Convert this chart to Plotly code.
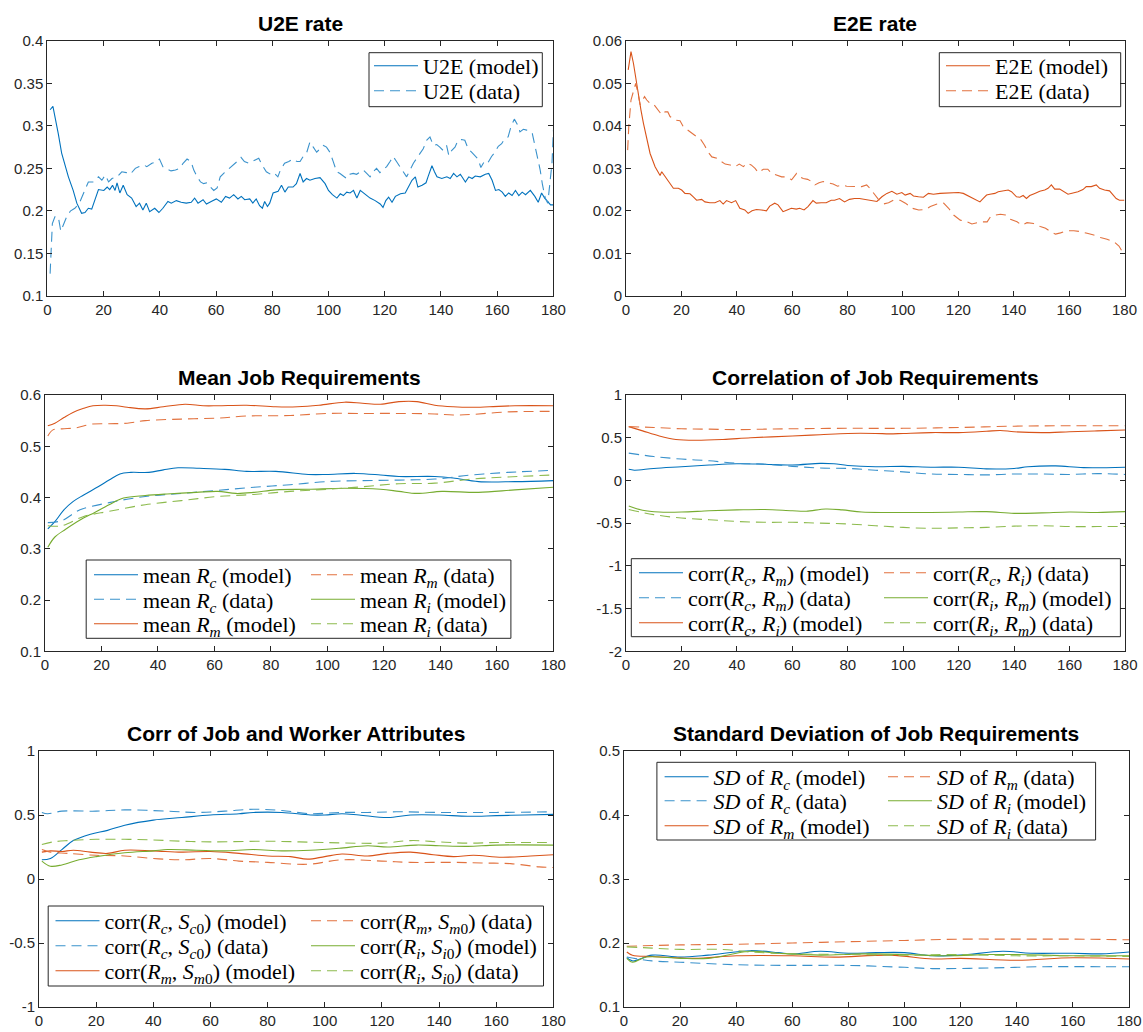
import plotly.graph_objects as go

W, H = 1143, 1032

# ---------------- data ----------------
# U2E rate
u2e_model_x = [1, 2, 3.9, 5.1, 7.5, 9.2, 10.5, 12.2, 13.4, 14.6, 15.8, 17, 18.2, 20.1, 21.3, 22.2, 23.2, 24.1, 24.8, 25.8, 27, 28.4, 30, 31.6, 32.8, 34, 35.2, 36.4, 38.2, 39.7, 41.1, 42.9, 44.1, 45.9, 47.6, 49.4, 51.2, 52.4, 53.6, 55.4, 56.6, 58.3, 60.1, 61.9, 63.4, 64.8, 66.3, 67.8, 69, 70.2, 72, 73.1, 74.3, 75.5, 76.5, 77.3, 78.3, 79.1, 80.3, 82.1, 83.3, 84.5, 85.7, 87.4, 88.6, 89.9, 91, 92.2, 93.4, 95.2, 97, 98.8, 100, 101.4, 103, 104.2, 105.3, 106.5, 107.7, 108.9, 110.1, 111.3, 112.5, 113.7, 114.8, 116.6, 118.4, 119.4, 120.4, 121.4, 122.6, 123.8, 125.6, 127.3, 128.5, 129.7, 130.9, 131.8, 133.3, 134.7, 135.4, 136.8, 137.7, 138.6, 140.3, 142.1, 143.3, 144.5, 145.7, 146.9, 148.7, 149.9, 151.1, 152.2, 154, 155.8, 157, 158.2, 159.4, 160.6, 161.8, 162.9, 164.1, 165.3, 166.5, 167.7, 168.9, 170.1, 171.8, 173.4, 174.6, 175.8, 176.9, 178.1, 179, 180]
u2e_model_y = [0.319, 0.323, 0.291, 0.268, 0.240, 0.224, 0.209, 0.197, 0.198, 0.203, 0.202, 0.213, 0.225, 0.224, 0.228, 0.225, 0.230, 0.224, 0.233, 0.221, 0.230, 0.219, 0.215, 0.205, 0.209, 0.201, 0.209, 0.199, 0.203, 0.198, 0.203, 0.211, 0.209, 0.212, 0.210, 0.209, 0.210, 0.215, 0.209, 0.213, 0.208, 0.211, 0.214, 0.210, 0.217, 0.215, 0.219, 0.214, 0.217, 0.213, 0.214, 0.209, 0.214, 0.206, 0.203, 0.211, 0.205, 0.209, 0.221, 0.223, 0.230, 0.222, 0.228, 0.228, 0.232, 0.244, 0.234, 0.238, 0.236, 0.238, 0.239, 0.232, 0.224, 0.219, 0.215, 0.220, 0.218, 0.222, 0.221, 0.224, 0.215, 0.224, 0.221, 0.218, 0.215, 0.212, 0.208, 0.204, 0.212, 0.216, 0.210, 0.217, 0.220, 0.221, 0.228, 0.236, 0.240, 0.228, 0.230, 0.233, 0.240, 0.253, 0.246, 0.240, 0.238, 0.240, 0.238, 0.244, 0.240, 0.243, 0.234, 0.240, 0.238, 0.241, 0.240, 0.243, 0.244, 0.236, 0.224, 0.225, 0.222, 0.217, 0.221, 0.218, 0.224, 0.218, 0.222, 0.219, 0.224, 0.217, 0.210, 0.221, 0.215, 0.210, 0.207, 0.207]
u2e_data_x = [1, 1.8, 2.7, 3.9, 4.8, 5.9, 7, 8.3, 9.8, 11.4, 12.8, 14.6, 16.4, 18.2, 19.4, 20.6, 21.8, 23, 24.8, 26.5, 28.1, 29.5, 31.3, 32.5, 34.3, 35.4, 37.2, 38.4, 39.9, 41.1, 42.6, 44, 45.6, 47.1, 48.3, 49.7, 51.1, 52.1, 53.3, 54.5, 55.6, 56.8, 58, 59.2, 60.4, 61.5, 63, 64.5, 66, 67.5, 68.9, 70.1, 71.6, 73.4, 75.2, 76.4, 77.9, 79.4, 80.6, 82, 82.9, 84.4, 85.9, 87.4, 88.8, 89.9, 91, 92.2, 93.4, 94.6, 95.8, 97, 98.2, 99.3, 100.5, 101.7, 102.9, 104.1, 105.3, 106.5, 107.6, 108.8, 110, 111.2, 112.4, 113.6, 114.8, 115.9, 117.1, 118.3, 119.5, 120.7, 121.9, 123, 124.2, 125.4, 126.6, 127.8, 129, 130.2, 131.4, 132.5, 133.7, 134.9, 136.1, 137.3, 138.5, 139.6, 140.8, 142, 142.8, 143.8, 145, 146.1, 147.3, 148.5, 149.7, 150.9, 152.1, 153.2, 154.2, 155.4, 156.6, 158, 159.2, 160.4, 161.6, 162.7, 163.9, 164.9, 166.1, 167.3, 168.1, 169.3, 170.5, 171.7, 172.5, 173.5, 174.4, 175.3, 176.1, 177.1, 178, 178.9, 179.5, 180]
u2e_data_y = [0.126, 0.185, 0.193, 0.193, 0.176, 0.185, 0.194, 0.200, 0.203, 0.209, 0.221, 0.234, 0.234, 0.240, 0.236, 0.242, 0.234, 0.238, 0.240, 0.246, 0.245, 0.243, 0.250, 0.252, 0.254, 0.252, 0.256, 0.257, 0.261, 0.252, 0.249, 0.247, 0.248, 0.250, 0.256, 0.261, 0.258, 0.248, 0.240, 0.234, 0.232, 0.233, 0.228, 0.224, 0.227, 0.240, 0.245, 0.249, 0.253, 0.258, 0.263, 0.258, 0.256, 0.259, 0.262, 0.254, 0.246, 0.243, 0.245, 0.240, 0.248, 0.256, 0.258, 0.261, 0.258, 0.258, 0.264, 0.268, 0.281, 0.275, 0.269, 0.273, 0.277, 0.275, 0.269, 0.258, 0.246, 0.244, 0.241, 0.238, 0.243, 0.244, 0.243, 0.246, 0.248, 0.244, 0.240, 0.246, 0.250, 0.245, 0.248, 0.252, 0.258, 0.264, 0.258, 0.252, 0.245, 0.240, 0.248, 0.256, 0.262, 0.268, 0.273, 0.283, 0.287, 0.277, 0.278, 0.275, 0.271, 0.277, 0.265, 0.271, 0.275, 0.283, 0.284, 0.283, 0.273, 0.269, 0.265, 0.261, 0.251, 0.258, 0.256, 0.264, 0.269, 0.276, 0.279, 0.285, 0.287, 0.299, 0.308, 0.301, 0.293, 0.296, 0.295, 0.294, 0.291, 0.277, 0.264, 0.248, 0.231, 0.215, 0.209, 0.233, 0.256, 0.295]

# E2E rate
e2e_model_x = [0.8, 1.8, 2.7, 3.5, 4.5, 5.4, 6.3, 7.5, 8.7, 10.5, 12.3, 12.9, 14.7, 15.9, 17.1, 18.9, 20.1, 21.3, 23.1, 24.3, 25.5, 27.3, 28.5, 30.3, 32.1, 33.9, 35.1, 36.3, 38.1, 39.6, 41.1, 42.9, 44.1, 45.5, 47.1, 48.9, 50.7, 51.9, 53.7, 54.9, 56.7, 58.2, 59.7, 61.5, 62.7, 64.3, 65.7, 67.5, 68.7, 70.5, 72.3, 74.1, 75.3, 77.1, 78.9, 80.7, 82.5, 84.3, 86.1, 88, 90.6, 92.4, 94.2, 96, 97.8, 99.6, 100.8, 102.6, 103.8, 105.6, 107.4, 109.2, 111, 113.4, 115.2, 117.6, 120, 121.8, 123.6, 125.4, 126.6, 127.8, 129, 130.2, 131.4, 133.2, 134.4, 136.2, 138, 139.2, 141, 142.2, 143.4, 144.6, 145.8, 147.6, 149.4, 151.2, 152.4, 153.6, 154.8, 156.6, 158, 159.6, 161.4, 163.2, 165, 166.2, 168, 169.8, 171, 172.8, 174.6, 175.8, 177, 178.2, 180]
e2e_model_y = [0.0532, 0.0575, 0.0547, 0.0512, 0.0469, 0.0437, 0.0406, 0.0367, 0.0335, 0.0304, 0.0283, 0.0292, 0.0276, 0.0265, 0.0253, 0.0253, 0.0249, 0.0241, 0.0240, 0.0233, 0.0225, 0.0227, 0.0221, 0.0219, 0.0219, 0.0224, 0.0216, 0.0224, 0.0219, 0.0224, 0.0206, 0.0202, 0.0194, 0.0200, 0.0203, 0.0202, 0.0200, 0.0211, 0.0218, 0.0214, 0.0198, 0.0202, 0.0206, 0.0204, 0.0206, 0.0202, 0.0210, 0.0224, 0.0218, 0.0219, 0.0219, 0.0225, 0.0225, 0.0229, 0.0221, 0.0227, 0.0229, 0.0229, 0.0227, 0.0224, 0.0222, 0.0233, 0.0241, 0.0246, 0.0239, 0.0243, 0.0237, 0.0241, 0.0235, 0.0233, 0.0232, 0.0241, 0.0239, 0.0241, 0.0242, 0.0243, 0.0243, 0.0241, 0.0235, 0.0229, 0.0224, 0.0221, 0.0229, 0.0237, 0.0239, 0.0241, 0.0245, 0.0247, 0.0249, 0.0245, 0.0233, 0.0232, 0.0236, 0.0229, 0.0236, 0.0241, 0.0246, 0.0249, 0.0253, 0.0261, 0.0251, 0.0251, 0.0245, 0.0239, 0.0242, 0.0245, 0.0250, 0.0257, 0.0257, 0.0261, 0.0253, 0.0249, 0.0247, 0.0237, 0.0229, 0.0225, 0.0225]
e2e_data_x = [0.6, 1, 1.8, 2.7, 3.5, 4.2, 5.1, 5.7, 6.7, 7.5, 8.7, 9.9, 11.1, 12.9, 14.1, 15.1, 15.9, 17.7, 19.5, 20.7, 21.9, 23.7, 25.5, 27.1, 28.3, 29.8, 31, 32.8, 34.4, 35.8, 37.6, 39.4, 40.9, 42.4, 43.6, 45.2, 46.6, 47.8, 49.6, 51.2, 52.6, 54.4, 56.2, 58, 59.8, 61.6, 62.8, 64, 65.6, 67, 68.2, 69.7, 71.2, 73, 74.8, 76.4, 77.9, 79.7, 81.5, 83.3, 85.1, 86.9, 88.1, 89.6, 91, 93, 94.8, 96.6, 99, 100.9, 103.3, 105.7, 108.1, 109.9, 112.3, 114.7, 116.5, 118.3, 120.7, 123.1, 124.9, 126.8, 128.6, 130.4, 131.6, 133.4, 135.2, 137, 138.8, 141.2, 143, 144.8, 147.2, 149.6, 151.5, 153.3, 155.1, 156.9, 159.3, 161.7, 164.1, 166.5, 168.9, 171.3, 173.7, 176.2, 178, 179.2, 180]
e2e_data_y = [0.0343, 0.0398, 0.0461, 0.0485, 0.0500, 0.0481, 0.0450, 0.0457, 0.0469, 0.0461, 0.0453, 0.0452, 0.0441, 0.0426, 0.0433, 0.0433, 0.0422, 0.0414, 0.0412, 0.0398, 0.0392, 0.0384, 0.0376, 0.0367, 0.0355, 0.0337, 0.0327, 0.0324, 0.0316, 0.0310, 0.0308, 0.0304, 0.0310, 0.0304, 0.0312, 0.0308, 0.0300, 0.0290, 0.0298, 0.0298, 0.0288, 0.0284, 0.0280, 0.0280, 0.0273, 0.0288, 0.0280, 0.0276, 0.0274, 0.0269, 0.0261, 0.0266, 0.0269, 0.0266, 0.0263, 0.0258, 0.0261, 0.0258, 0.0257, 0.0257, 0.0257, 0.0261, 0.0253, 0.0240, 0.0228, 0.0216, 0.0219, 0.0225, 0.0225, 0.0218, 0.0206, 0.0202, 0.0203, 0.0210, 0.0216, 0.0218, 0.0206, 0.0190, 0.0178, 0.0174, 0.0169, 0.0172, 0.0174, 0.0174, 0.0186, 0.0190, 0.0192, 0.0190, 0.0180, 0.0174, 0.0166, 0.0172, 0.0170, 0.0163, 0.0159, 0.0151, 0.0145, 0.0148, 0.0153, 0.0153, 0.0151, 0.0147, 0.0143, 0.0137, 0.0133, 0.0127, 0.0117, 0.0104, 0.0096]

# Mean job requirements
mean_rc_model_x = [1, 3.5, 6.7, 9.9, 13.7, 18.8, 22.7, 26.5, 30.4, 36.8, 41.9, 47.1, 54.7, 63.7, 71.4, 81.7, 93.2, 99.6, 109.9, 118.8, 125.3, 138, 144.5, 153.5, 166.3, 180]
mean_rc_model_y = [0.339, 0.353, 0.376, 0.392, 0.405, 0.421, 0.434, 0.446, 0.449, 0.449, 0.454, 0.458, 0.457, 0.455, 0.451, 0.451, 0.445, 0.445, 0.447, 0.444, 0.441, 0.441, 0.438, 0.431, 0.431, 0.433]
mean_rc_data_x = [1, 6, 12.4, 22.7, 35.5, 48.3, 61.2, 74, 86.8, 99.6, 112.4, 125.3, 138, 150.9, 163.7, 180]
mean_rc_data_y = [0.351, 0.355, 0.376, 0.390, 0.402, 0.408, 0.414, 0.420, 0.425, 0.431, 0.433, 0.434, 0.436, 0.444, 0.449, 0.453]
mean_rm_model_x = [1, 3.5, 6.7, 9.9, 13.7, 17, 21.4, 25.3, 29.1, 35.5, 41.9, 49.6, 56, 61.2, 71.4, 81.7, 89.4, 97, 106, 112.4, 118.8, 125.3, 131.7, 138, 144.5, 150.9, 157.3, 166.3, 180]
mean_rm_model_y = [0.540, 0.545, 0.556, 0.566, 0.574, 0.579, 0.580, 0.579, 0.576, 0.573, 0.577, 0.582, 0.579, 0.579, 0.580, 0.577, 0.577, 0.580, 0.586, 0.584, 0.582, 0.587, 0.587, 0.580, 0.577, 0.576, 0.577, 0.579, 0.579]
mean_rm_data_x = [1, 2.8, 6, 11.2, 16.3, 22.7, 29.1, 35.5, 48.3, 61.2, 71.4, 86.8, 99.6, 112.4, 125.3, 138, 144.5, 150.9, 163.7, 180]
mean_rm_data_y = [0.520, 0.532, 0.534, 0.536, 0.543, 0.544, 0.545, 0.550, 0.553, 0.555, 0.559, 0.560, 0.564, 0.564, 0.564, 0.563, 0.561, 0.562, 0.567, 0.568]
mean_ri_model_x = [1, 3.5, 7.3, 12.4, 17.6, 22.7, 27.8, 35.5, 43.2, 53.5, 61.2, 67.6, 74, 81.7, 93.2, 106, 118.8, 125.3, 131.7, 140.6, 153.5, 166.3, 180]
mean_ri_model_y = [0.303, 0.323, 0.338, 0.356, 0.371, 0.386, 0.399, 0.404, 0.407, 0.410, 0.412, 0.408, 0.410, 0.415, 0.416, 0.418, 0.416, 0.412, 0.408, 0.412, 0.410, 0.415, 0.420]
mean_ri_data_x = [1, 6, 13.7, 22.7, 35.5, 48.3, 61.2, 74, 86.8, 99.6, 112.4, 125.3, 138, 150.9, 163.7, 180]
mean_ri_data_y = [0.345, 0.345, 0.363, 0.373, 0.386, 0.394, 0.402, 0.406, 0.412, 0.416, 0.421, 0.427, 0.428, 0.436, 0.440, 0.444]

# Correlation of job requirements
corr_rcrm_model_x = [1, 3, 10, 20, 30, 40, 50, 60, 70, 75, 80, 90, 100, 110, 120, 130, 140, 145, 155, 165, 180]
corr_rcrm_model_y = [0.13, 0.12, 0.14, 0.16, 0.18, 0.195, 0.19, 0.18, 0.20, 0.195, 0.175, 0.16, 0.165, 0.155, 0.155, 0.135, 0.14, 0.16, 0.17, 0.15, 0.155]
corr_rcrm_data_x = [1, 10, 20, 30, 40, 50, 60, 70, 80, 90, 100, 110, 120, 130, 140, 150, 160, 170, 180]
corr_rcrm_data_y = [0.32, 0.28, 0.25, 0.23, 0.20, 0.19, 0.165, 0.145, 0.14, 0.12, 0.10, 0.075, 0.07, 0.065, 0.075, 0.075, 0.07, 0.08, 0.07]
corr_rcri_model_x = [1, 6, 12, 18, 25, 35, 45, 60, 70, 80, 90, 95, 100, 110, 120, 130, 135, 140, 150, 160, 170, 180]
corr_rcri_model_y = [0.63, 0.58, 0.52, 0.48, 0.47, 0.48, 0.50, 0.52, 0.535, 0.55, 0.55, 0.545, 0.55, 0.56, 0.56, 0.575, 0.585, 0.57, 0.56, 0.57, 0.58, 0.59]
corr_rcri_data_x = [1, 10, 20, 30, 40, 50, 60, 80, 100, 120, 140, 160, 180]
corr_rcri_data_y = [0.63, 0.62, 0.605, 0.60, 0.595, 0.60, 0.605, 0.61, 0.61, 0.62, 0.635, 0.64, 0.64]
corr_rirm_model_x = [1, 6, 12, 20, 30, 40, 50, 60, 65, 72, 78, 85, 95, 110, 120, 130, 140, 150, 160, 170, 180]
corr_rirm_model_y = [-0.30, -0.35, -0.37, -0.37, -0.355, -0.345, -0.34, -0.355, -0.36, -0.335, -0.345, -0.37, -0.375, -0.375, -0.37, -0.365, -0.385, -0.38, -0.37, -0.375, -0.365]
corr_rirm_data_x = [1, 10, 20, 30, 40, 50, 60, 70, 80, 90, 100, 110, 120, 130, 140, 150, 160, 170, 180]
corr_rirm_data_y = [-0.34, -0.40, -0.44, -0.46, -0.48, -0.49, -0.49, -0.50, -0.51, -0.53, -0.55, -0.56, -0.555, -0.55, -0.535, -0.53, -0.54, -0.54, -0.54]

# Correlation of job and worker attributes
cjw_c_model_x = [1, 4, 8, 12, 18, 24, 30, 40, 50, 60, 70, 75, 85, 95, 100, 106, 112, 122, 130, 140, 150, 160, 170, 180]
cjw_c_model_y = [0.15, 0.16, 0.23, 0.30, 0.35, 0.38, 0.42, 0.46, 0.48, 0.50, 0.51, 0.52, 0.52, 0.50, 0.50, 0.51, 0.50, 0.48, 0.50, 0.50, 0.49, 0.495, 0.50, 0.505]
cjw_c_data_x = [1, 3, 8, 20, 30, 45, 55, 65, 75, 85, 95, 105, 115, 125, 140, 160, 180]
cjw_c_data_y = [0.52, 0.51, 0.53, 0.53, 0.54, 0.53, 0.52, 0.53, 0.545, 0.535, 0.51, 0.52, 0.52, 0.525, 0.52, 0.52, 0.525]
cjw_m_model_x = [1, 4, 8, 12, 18, 24, 30, 40, 50, 60, 70, 80, 88, 94, 100, 106, 115, 122, 130, 138, 145, 152, 162, 172, 180]
cjw_m_model_y = [0.21, 0.22, 0.215, 0.225, 0.21, 0.20, 0.225, 0.22, 0.21, 0.215, 0.20, 0.18, 0.175, 0.155, 0.175, 0.195, 0.18, 0.20, 0.21, 0.19, 0.175, 0.185, 0.17, 0.18, 0.19]
cjw_m_data_x = [1, 4, 10, 20, 30, 40, 50, 60, 70, 80, 94, 106, 120, 130, 145, 155, 165, 175, 180]
cjw_m_data_y = [0.23, 0.21, 0.20, 0.185, 0.18, 0.16, 0.15, 0.16, 0.14, 0.13, 0.115, 0.15, 0.14, 0.13, 0.13, 0.125, 0.12, 0.095, 0.09]
cjw_i_model_x = [1, 4, 8, 14, 20, 30, 40, 45, 55, 65, 75, 85, 95, 105, 115, 122, 132, 140, 150, 160, 180]
cjw_i_model_y = [0.14, 0.10, 0.11, 0.15, 0.175, 0.205, 0.22, 0.23, 0.225, 0.22, 0.23, 0.22, 0.225, 0.24, 0.26, 0.25, 0.265, 0.26, 0.255, 0.265, 0.265]
cjw_i_data_x = [1, 5, 10, 20, 30, 40, 50, 60, 80, 100, 120, 130, 140, 150, 160, 180]
cjw_i_data_y = [0.27, 0.29, 0.30, 0.31, 0.31, 0.305, 0.295, 0.29, 0.295, 0.285, 0.28, 0.30, 0.29, 0.28, 0.285, 0.285]

# Standard deviation of job requirements
sd_rc_model_x = [1, 3, 10, 20, 30, 45, 55, 60, 70, 80, 90, 100, 110, 120, 135, 145, 160, 170, 180]
sd_rc_model_y = [0.177, 0.172, 0.181, 0.178, 0.181, 0.188, 0.185, 0.183, 0.187, 0.184, 0.185, 0.185, 0.180, 0.181, 0.187, 0.184, 0.184, 0.183, 0.186]
sd_rc_data_x = [1, 10, 20, 40, 60, 80, 100, 110, 130, 150, 170, 180]
sd_rc_data_y = [0.178, 0.172, 0.170, 0.166, 0.165, 0.165, 0.162, 0.160, 0.161, 0.163, 0.163, 0.163]
sd_rm_model_x = [1, 3, 10, 25, 40, 60, 75, 95, 110, 120, 140, 160, 180]
sd_rm_model_y = [0.186, 0.181, 0.179, 0.176, 0.180, 0.180, 0.178, 0.181, 0.175, 0.176, 0.173, 0.177, 0.175]
sd_rm_data_x = [1, 20, 40, 60, 80, 100, 120, 140, 160, 180]
sd_rm_data_y = [0.195, 0.197, 0.198, 0.200, 0.202, 0.204, 0.206, 0.206, 0.206, 0.205]
sd_ri_model_x = [1, 3, 8, 20, 30, 45, 55, 70, 85, 100, 115, 130, 140, 160, 180]
sd_ri_model_y = [0.176, 0.170, 0.178, 0.176, 0.176, 0.187, 0.184, 0.181, 0.183, 0.182, 0.180, 0.182, 0.182, 0.180, 0.180]
sd_ri_data_x = [1, 10, 20, 35, 45, 60, 80, 100, 120, 140, 160, 180]
sd_ri_data_y = [0.194, 0.192, 0.190, 0.190, 0.186, 0.183, 0.182, 0.181, 0.182, 0.180, 0.180, 0.179]

# tick labels
x_ticks = [0, 20, 40, 60, 80, 100, 120, 140, 160, 180]
u2e_yticks = [0.1, 0.15, 0.2, 0.25, 0.3, 0.35, 0.4]
u2e_ytext = ["0.1", "0.15", "0.2", "0.25", "0.3", "0.35", "0.4"]
e2e_yticks = [0, 0.01, 0.02, 0.03, 0.04, 0.05, 0.06]
e2e_ytext = ["0", "0.01", "0.02", "0.03", "0.04", "0.05", "0.06"]
mean_yticks = [0.1, 0.2, 0.3, 0.4, 0.5, 0.6]
mean_ytext = ["0.1", "0.2", "0.3", "0.4", "0.5", "0.6"]
corr_yticks = [-2, -1.5, -1, -0.5, 0, 0.5, 1]
corr_ytext = ["-2", "-1.5", "-1", "-0.5", "0", "0.5", "1"]
cjw_yticks = [-1, -0.5, 0, 0.5, 1]
cjw_ytext = ["-1", "-0.5", "0", "0.5", "1"]
sd_yticks = [0.1, 0.2, 0.3, 0.4, 0.5]
sd_ytext = ["0.1", "0.2", "0.3", "0.4", "0.5"]

titles = ["U2E rate", "E2E rate", "Mean Job Requirements", "Correlation of Job Requirements",
          "Corr of Job and Worker Attributes", "Standard Deviation of Job Requirements"]

# ---------------- style ----------------
BLUE, ORANGE, GREEN = "#0072BD", "#D95319", "#77AC30"
BLUE_D, ORANGE_D, GREEN_D = "#3A92CC", "#E2723F", "#8DBB4E"
DASH = "10px,6px"
AX = "#262626"

# subplot boxes in pixels: (x0, x1, y0_top, y1_bottom)
boxes = [
    (47.3, 553.4, 41, 295.7),
    (626, 1124.5, 41, 295.7),
    (45, 553.4, 395, 651.3),
    (626, 1125, 395, 651.3),
    (39, 553.4, 751, 1007),
    (624, 1129, 751, 1007),
]
yranges = [(0.1, 0.4), (0, 0.06), (0.1, 0.6), (-2, 1), (-1, 1), (0.1, 0.5)]
yticks = [(u2e_yticks, u2e_ytext), (e2e_yticks, e2e_ytext), (mean_yticks, mean_ytext),
          (corr_yticks, corr_ytext), (cjw_yticks, cjw_ytext), (sd_yticks, sd_ytext)]

fig = go.Figure()
layout = dict(
    width=W, height=H,
    margin=dict(l=0, r=0, t=0, b=0, autoexpand=False),
    paper_bgcolor="white", plot_bgcolor="white",
    showlegend=True,
    font=dict(family="Liberation Sans", color=AX, size=15),
)

for i, (bx, yr, yt) in enumerate(zip(boxes, yranges, yticks)):
    n = "" if i == 0 else str(i + 1)
    x0, x1, y0, y1 = bx
    common = dict(showline=True, linecolor=AX, linewidth=1, mirror="allticks",
                  ticks="inside", ticklen=5, tickcolor=AX, tickwidth=1,
                  showgrid=False, zeroline=False,
                  tickfont=dict(family="Liberation Sans", size=15, color=AX))
    layout["xaxis" + n] = dict(domain=[x0 / W, x1 / W], range=[0, 180],
                               tickvals=x_ticks, ticktext=[str(v) for v in x_ticks],
                               anchor="y" + n, **common)
    layout["yaxis" + n] = dict(domain=[1 - y1 / H, 1 - y0 / H], range=list(yr),
                               tickvals=yt[0], ticktext=yt[1],
                               anchor="x" + n, **common)

annotations = []
for i, (bx, t) in enumerate(zip(boxes, titles)):
    x0, x1, y0, y1 = bx
    annotations.append(dict(text=t, x=(x0 + x1) / 2 / W, y=1 - (y0 - 18) / H,
                            xref="paper", yref="paper", showarrow=False,
                            xanchor="center", yanchor="middle",
                            font=dict(family="Liberation Sans", size=21, color="black", weight="bold")))
layout["annotations"] = annotations

# legend boxes (pixels: x0, x1, y0, y1)
legend_boxes = [
    (369, 542.3, 52.7, 106.7),
    (939.3, 1120.7, 52.7, 106.7),
    (86.2, 510.9, 560, 638.3),
    (631.3, 1120.4, 558.7, 636.7),
    (48.2, 543.5, 906, 986),
    (656.9, 1095.6, 762.3, 840),
]
layout["shapes"] = [dict(type="rect", xref="paper", yref="paper",
                         x0=a / W, x1=b / W, y0=1 - d / H, y1=1 - c / H,
                         line=dict(color=AX, width=1), fillcolor="rgba(0,0,0,0)", layer="above")
                    for a, b, c, d in legend_boxes]

ITEMW = 44
TEXT_OFF = 52
LEG_FONT = 22
leg_count = [0]


def add(xs, ys, color, dash, name, idx, text_px, row_py, shape="linear", fsize=LEG_FONT):
    leg_count[0] += 1
    key = "legend" if leg_count[0] == 1 else "legend%d" % leg_count[0]
    n = "" if idx == 1 else str(idx)
    line = dict(color=color, width=1.1, shape=shape)
    if dash:
        line["dash"] = DASH
    fig.add_trace(go.Scatter(x=xs, y=ys, mode="lines", line=line, name=name,
                             xaxis="x" + n, yaxis="y" + n, legend=key, hoverinfo="skip"))
    layout[key] = dict(x=(text_px - TEXT_OFF) / W, y=1 - row_py / H, xanchor="left", yanchor="middle",
                       bgcolor="rgba(0,0,0,0)", borderwidth=0, itemwidth=ITEMW,
                       font=dict(family="Liberation Serif", size=fsize, color="black"))


def R(s):
    return "<i>R</i><sub><i>%s</i></sub>" % s


def S(s):
    return "<i>S</i><sub><i>%s</i>0</sub>" % s


SP = "spline"
add(u2e_model_x, u2e_model_y, BLUE, False, "U2E (model)", 1, 421, 66)
add(u2e_data_x, u2e_data_y, BLUE_D, True, "U2E (data)", 1, 421, 91)
add(e2e_model_x, e2e_model_y, ORANGE, False, "E2E (model)", 2, 993, 66)
add(e2e_data_x, e2e_data_y, ORANGE_D, True, "E2E (data)", 2, 993, 91)

mrows = [575, 599.5, 624]
add(mean_rc_model_x, mean_rc_model_y, BLUE, False, "mean %s (model)" % R("c"), 3, 141, mrows[0], SP)
add(mean_rc_data_x, mean_rc_data_y, BLUE_D, True, "mean %s (data)" % R("c"), 3, 141, mrows[1], SP)
add(mean_rm_model_x, mean_rm_model_y, ORANGE, False, "mean %s (model)" % R("m"), 3, 141, mrows[2], SP)
add(mean_rm_data_x, mean_rm_data_y, ORANGE_D, True, "mean %s (data)" % R("m"), 3, 358, mrows[0], SP)
add(mean_ri_model_x, mean_ri_model_y, GREEN, False, "mean %s (model)" % R("i"), 3, 358, mrows[1], SP)
add(mean_ri_data_x, mean_ri_data_y, GREEN_D, True, "mean %s (data)" % R("i"), 3, 358, mrows[2], SP)

crows = [573, 598, 623]
add(corr_rcrm_model_x, corr_rcrm_model_y, BLUE, False, "corr(%s, %s) (model)" % (R("c"), R("m")), 4, 686, crows[0], SP)
add(corr_rcrm_data_x, corr_rcrm_data_y, BLUE_D, True, "corr(%s, %s) (data)" % (R("c"), R("m")), 4, 686, crows[1], SP)
add(corr_rcri_model_x, corr_rcri_model_y, ORANGE, False, "corr(%s, %s) (model)" % (R("c"), R("i")), 4, 686, crows[2], SP)
add(corr_rcri_data_x, corr_rcri_data_y, ORANGE_D, True, "corr(%s, %s) (data)" % (R("c"), R("i")), 4, 931, crows[0], SP)
add(corr_rirm_model_x, corr_rirm_model_y, GREEN, False, "corr(%s, %s) (model)" % (R("i"), R("m")), 4, 931, crows[1], SP)
add(corr_rirm_data_x, corr_rirm_data_y, GREEN_D, True, "corr(%s, %s) (data)" % (R("i"), R("m")), 4, 931, crows[2], SP)

jrows = [921, 946, 971]
add(cjw_c_model_x, cjw_c_model_y, BLUE, False, "corr(%s, %s) (model)" % (R("c"), S("c")), 5, 102.5, jrows[0], SP)
add(cjw_c_data_x, cjw_c_data_y, BLUE_D, True, "corr(%s, %s) (data)" % (R("c"), S("c")), 5, 102.5, jrows[1], SP)
add(cjw_m_model_x, cjw_m_model_y, ORANGE, False, "corr(%s, %s) (model)" % (R("m"), S("m")), 5, 102.5, jrows[2], SP)
add(cjw_m_data_x, cjw_m_data_y, ORANGE_D, True, "corr(%s, %s) (data)" % (R("m"), S("m")), 5, 358, jrows[0], SP)
add(cjw_i_model_x, cjw_i_model_y, GREEN, False, "corr(%s, %s) (model)" % (R("i"), S("i")), 5, 358, jrows[1], SP)
add(cjw_i_data_x, cjw_i_data_y, GREEN_D, True, "corr(%s, %s) (data)" % (R("i"), S("i")), 5, 358, jrows[2], SP)

srows = [777, 801, 826]
SD = "<i>SD</i>"
add(sd_rc_model_x, sd_rc_model_y, BLUE, False, "%s of %s (model)" % (SD, R("c")), 6, 711.6, srows[0], SP)
add(sd_rc_data_x, sd_rc_data_y, BLUE_D, True, "%s of %s (data)" % (SD, R("c")), 6, 711.6, srows[1], SP)
add(sd_rm_model_x, sd_rm_model_y, ORANGE, False, "%s of %s (model)" % (SD, R("m")), 6, 711.6, srows[2], SP)
add(sd_rm_data_x, sd_rm_data_y, ORANGE_D, True, "%s of %s (data)" % (SD, R("m")), 6, 935, srows[0], SP)
add(sd_ri_model_x, sd_ri_model_y, GREEN, False, "%s of %s (model)" % (SD, R("i")), 6, 935, srows[1], SP)
add(sd_ri_data_x, sd_ri_data_y, GREEN_D, True, "%s of %s (data)" % (SD, R("i")), 6, 935, srows[2], SP)

fig.update_layout(**layout)
fig.write_html("out.html", config={"displayModeBar": False},
               post_script="document.body.style.margin='0';document.body.style.overflow='hidden';")
